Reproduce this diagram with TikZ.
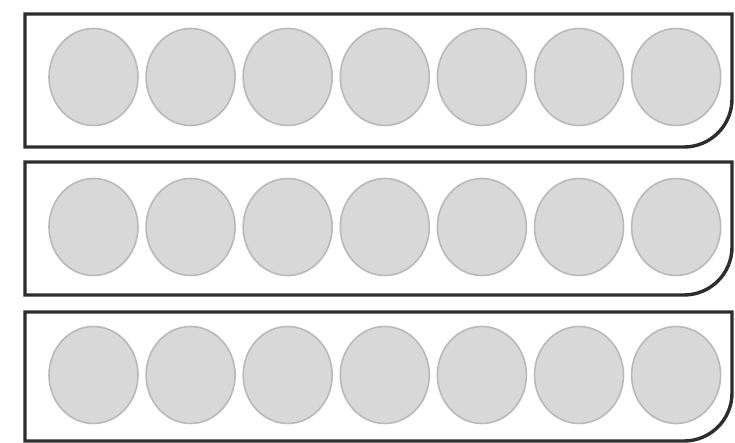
\documentclass[tikz,border=0pt]{standalone}
\usetikzlibrary{shapes.geometric}
\definecolor{ballfill}{RGB}{216,216,216}
\definecolor{ballrim}{RGB}{185,185,185}
\definecolor{frame}{RGB}{45,45,45}
\begin{document}
\begin{tikzpicture}[x=1pt,y=1pt,
  ball/.style={ellipse,minimum width=89pt,minimum height=97pt,inner sep=0pt,
    fill=ballfill,draw=ballrim,line width=1.6pt},
  tray/.style={draw=frame,line width=3.4pt,rounded corners=0pt}]
\useasboundingbox (0,0) rectangle (735,443);
\foreach \top/\bot/\cy/\r in {429/296/366/1,281/148/216/2,131/2/68/3}{
  \draw[tray] (25,\bot) -- (25,\top) -- (732,\top) [rounded corners=48pt] -- (732,\bot) [rounded corners=0pt] -- cycle;
  \foreach \i in {0,...,6}{
    \node[ball] (b\r-\i) at ({93.5+97.1*\i},\cy) {};
  }
}
\end{tikzpicture}
\end{document}
